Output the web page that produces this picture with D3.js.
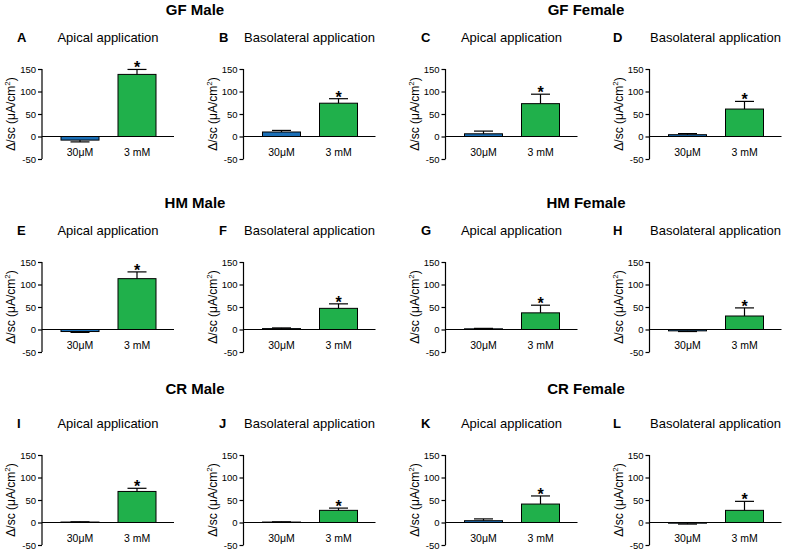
<!DOCTYPE html>
<html>
<head>
<meta charset="utf-8">
<script src="https://cdn.jsdelivr.net/npm/d3@7"></script>
<style>
  html, body { margin: 0; padding: 0; background: #fff; }
  svg { display: block; font-family: "Liberation Sans", Arial, Helvetica, sans-serif; }
</style>
</head>
<body>
<svg id="chart" width="787" height="555"></svg>
<script>
// ---------------- data ----------------
const categories = ["30\u03bcM", "3 mM"];
const yTicks = [-50, 0, 50, 100, 150];
const groupTitles = ["GF Male", "GF Female", "HM Male", "HM Female", "CR Male", "CR Female"];
const panelLetters = ["A", "B", "C", "D", "E", "F", "G", "H", "I", "J", "K", "L"];
const panelTitles = ["Apical application", "Basolateral application", "Apical application", "Basolateral application",
                     "Apical application", "Basolateral application", "Apical application", "Basolateral application",
                     "Apical application", "Basolateral application", "Apical application", "Basolateral application"];
const lowMeans   = [-8, 10, 6, 4, -4.5, 2, 1.5, -3, 1, 1, 4, -1.5];
const lowErrors  = [4, 3.5, 6, 2.5, 2, 1.5, 1, 1.5, 0.5, 0.5, 4, 2];
const highMeans  = [138, 74, 73, 61, 113, 47, 37, 30, 69, 27, 41, 27];
const highErrors = [11, 10, 21, 17, 15, 10, 17, 18, 7, 5, 18, 20];
const significant = [false, true];  // asterisk shown on the 3 mM bar only
const yLabel = "\u0394/sc (\u03bcA/cm";

// ---------------- layout ----------------
const colAxisX = [42, 243.5, 445.5, 649.5];
const rowTop = [69, 262, 455];
const groupTitleY = [15, 208, 394];
const groupTitleX = [195, 586];
const letterX = [17, 219, 421, 613];
const plotH = 90, plotW = 133;
const barColors = ["#1b6fb6", "#20b04b"];

const svg = d3.select("#chart");

groupTitles.forEach((t, i) => {
  const r = Math.floor(i / 2), c = i % 2;
  svg.append("text")
    .attr("x", groupTitleX[c]).attr("y", groupTitleY[r])
    .attr("text-anchor", "middle")
    .attr("font-size", 15).attr("font-weight", "bold")
    .text(t);
});

panelLetters.forEach((letter, i) => {
  const r = Math.floor(i / 4), c = i % 4;
  const x0 = colAxisX[c], top = rowTop[r];
  const g = svg.append("g").attr("transform", `translate(${x0},${top})`);

  const y = d3.scaleLinear().domain([-50, 150]).range([plotH, 0]);
  const x = d3.scaleBand().domain(categories).range([0, plotW]).paddingInner(1/3).paddingOuter(1/3);

  // titles
  svg.append("text").attr("x", letterX[c]).attr("y", top - 27)
    .attr("font-size", 13).attr("font-weight", "bold").text(letter);
  svg.append("text").attr("x", x0 + 66).attr("y", top - 27)
    .attr("text-anchor", "middle").attr("font-size", 13).text(panelTitles[i]);

  // y axis
  const yAxis = d3.axisLeft(y).tickValues(yTicks).tickSize(4).tickPadding(2).tickFormat(d => String(d));
  const ya = g.append("g").call(yAxis);
  ya.select(".domain").attr("stroke", "#000").attr("stroke-width", 1.2).attr("d", `M0,${y(150)}V${y(-50)}`);
  ya.selectAll(".tick line").attr("stroke", "#000").attr("stroke-width", 1.2);
  ya.selectAll(".tick text").attr("font-size", 9.5).attr("font-family", null).attr("fill", "#000");

  // y label
  const lab = svg.append("text")
    .attr("transform", `translate(${x0 - 27},${top + plotH / 2}) rotate(-90)`)
    .attr("text-anchor", "middle").attr("font-size", 12);
  lab.append("tspan").text(yLabel);
  lab.append("tspan").attr("font-size", 8).attr("dy", -5).text("2");
  lab.append("tspan").attr("dy", 5).text(")");

  const means = [lowMeans[i], highMeans[i]];
  const errs = [lowErrors[i], highErrors[i]];
  const data = categories.map((cat, k) => ({ cat, mean: means[k], err: errs[k], k }));

  // bars
  g.selectAll("rect.bar").data(data).enter().append("rect")
    .attr("x", d => x(d.cat))
    .attr("y", d => y(Math.max(0, d.mean)))
    .attr("width", x.bandwidth())
    .attr("height", d => Math.abs(y(d.mean) - y(0)))
    .attr("fill", d => barColors[d.k])
    .attr("stroke", "#000").attr("stroke-width", 1);

  // error bars (one-sided, away from zero)
  const capW = 19;
  data.forEach(d => {
    const cx = x(d.cat) + x.bandwidth() / 2;
    const end = d.mean >= 0 ? d.mean + d.err : d.mean - d.err;
    g.append("line").attr("x1", cx).attr("x2", cx).attr("y1", y(d.mean)).attr("y2", y(end))
      .attr("stroke", "#000").attr("stroke-width", 1.2);
    g.append("line").attr("x1", cx - capW / 2).attr("x2", cx + capW / 2).attr("y1", y(end)).attr("y2", y(end))
      .attr("stroke", "#000").attr("stroke-width", 1.2);
    if (significant[d.k]) {
      g.append("text").attr("x", cx).attr("y", y(end) + 4)
        .attr("text-anchor", "middle").attr("font-size", 16).attr("font-weight", "bold").text("*");
    }
  });

  // x axis line at zero
  g.append("line").attr("x1", 0).attr("x2", plotW - 1).attr("y1", y(0)).attr("y2", y(0))
    .attr("stroke", "#000").attr("stroke-width", 1.2);

  // category labels
  g.selectAll("text.cat").data(categories).enter().append("text")
    .attr("class", "cat")
    .attr("x", d => x(d) + x.bandwidth() / 2)
    .attr("y", y(0) + 19.5)
    .attr("text-anchor", "middle").attr("font-size", 10.5)
    .text(d => d);
});
</script>
</body>
</html>
